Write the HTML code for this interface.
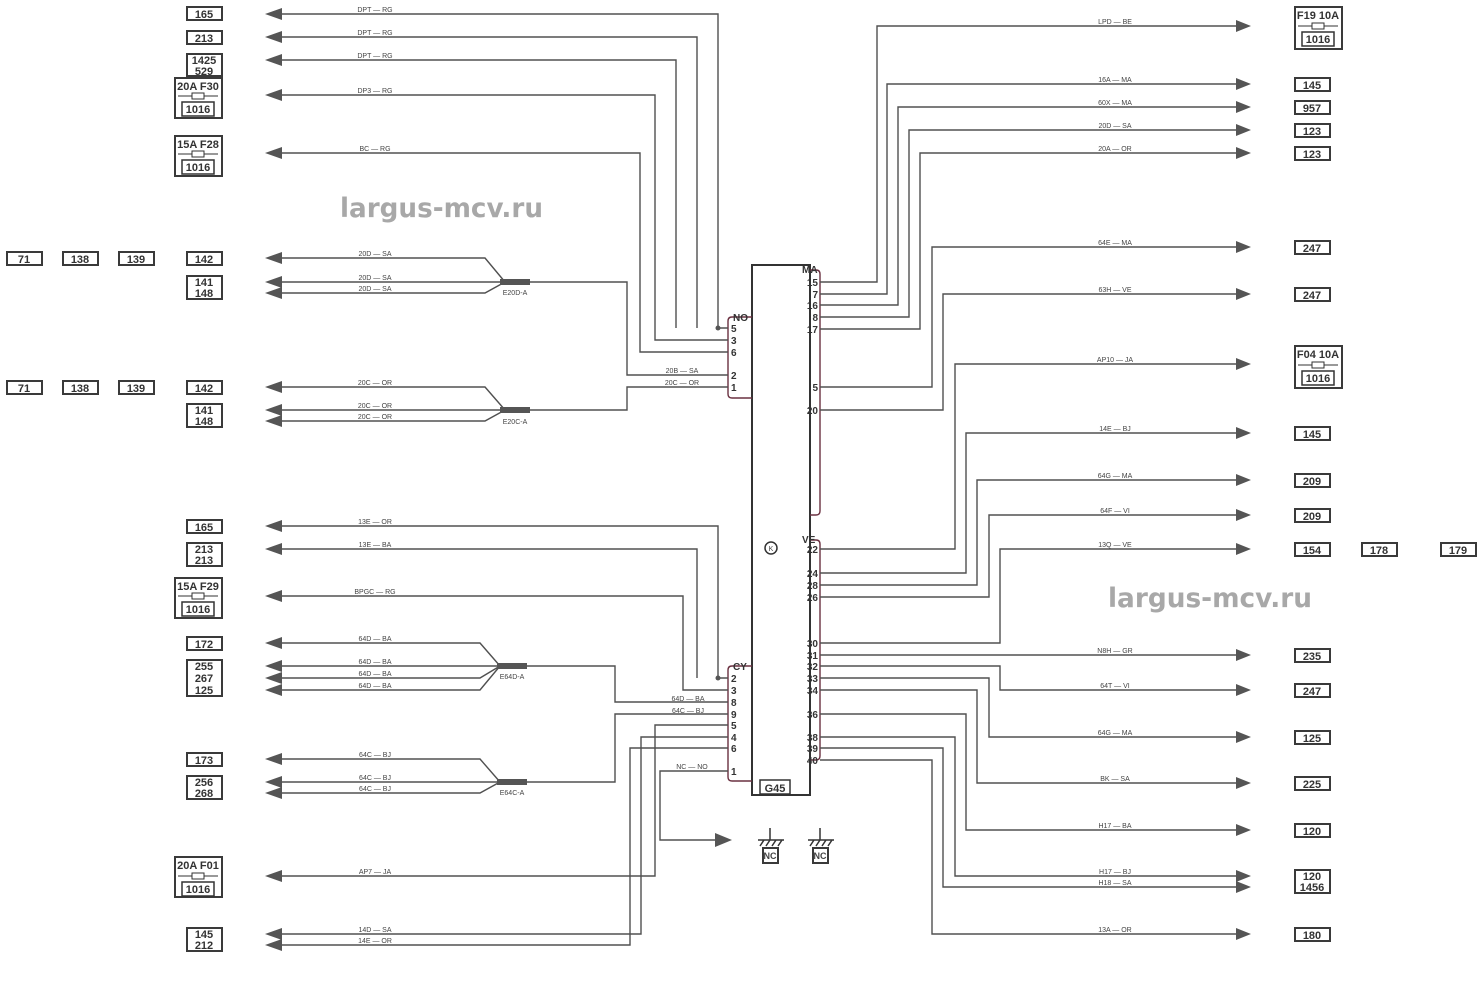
<!DOCTYPE html>
<html><head><meta charset="utf-8"><style>
html,body{margin:0;padding:0;background:#fff;}
svg{display:block;font-family:"Liberation Sans",sans-serif;}
.w{stroke:#505050;stroke-width:1.4;fill:none}
.v{stroke:#6a3040;stroke-width:1.4;fill:none}
.b{fill:#fff;stroke:#3a3a3a;stroke-width:2}
.t{font-size:11px;font-weight:bold;fill:#333;text-anchor:middle}
.s{font-size:7px;fill:#444;text-anchor:middle}
.p{font-size:10px;fill:#333;font-weight:bold}
.a{fill:#555}
.wm{font-size:27px;font-weight:bold;fill:#a8a8a8;font-family:"DejaVu Sans",sans-serif}
</style></head><body>
<svg width="1484" height="983" viewBox="0 0 1484 983">
<text class="wm" x="340" y="217" textLength="203" lengthAdjust="spacingAndGlyphs">largus-mcv.ru</text>
<text class="wm" x="1108" y="607" textLength="204" lengthAdjust="spacingAndGlyphs">largus-mcv.ru</text>

<!-- main module -->
<rect x="752" y="265" width="58" height="530" fill="#fff" stroke="#333" stroke-width="2"/>
<rect x="760" y="780" width="30" height="14" fill="#fff" stroke="#333" stroke-width="1.5"/>
<text class="t" x="775" y="792">G45</text>
<circle cx="771" cy="548" r="6" fill="none" stroke="#333" stroke-width="1.5"/><text class="s" x="771" y="551">K</text>
<!-- connectors -->
<path class="v" d="M752,317 H732 Q728,317 728,321 V394 Q728,398 732,398 H752"/>
<text class="p" x="733" y="321">NO</text>
<path class="v" d="M752,666 H732 Q728,666 728,670 V777 Q728,781 732,781 H752"/>
<text class="p" x="733" y="670">CY</text>
<path class="v" d="M810,270 H816 Q820,270 820,274 V511 Q820,515 816,515 H810"/>
<text class="p" x="802" y="273">MA</text>
<path class="v" d="M810,540 H816 Q820,540 820,544 V756 Q820,760 816,760 H810"/>
<text class="p" x="802" y="543">VE</text>

<!-- left pin labels -->
<g class="p"><text x="731" y="332">5</text><text x="731" y="344">3</text><text x="731" y="356">6</text><text x="731" y="379">2</text><text x="731" y="391">1</text>
<text x="731" y="682">2</text><text x="731" y="694">3</text><text x="731" y="706">8</text><text x="731" y="718">9</text><text x="731" y="729">5</text><text x="731" y="741">4</text><text x="731" y="752">6</text><text x="731" y="775">1</text></g>
<!-- right pin labels -->
<g class="p" text-anchor="end"><text x="818" y="286">15</text><text x="818" y="298">7</text><text x="818" y="309">16</text><text x="818" y="321">8</text><text x="818" y="333">17</text><text x="818" y="391">5</text><text x="818" y="414">20</text>
<text x="818" y="553">22</text><text x="818" y="577">24</text><text x="818" y="589">28</text><text x="818" y="601">26</text><text x="818" y="647">30</text><text x="818" y="659">31</text><text x="818" y="670">32</text><text x="818" y="682">33</text><text x="818" y="694">34</text><text x="818" y="718">36</text><text x="818" y="741">38</text><text x="818" y="752">39</text><text x="818" y="764">40</text></g>

<!-- LEFT WIRES top -->
<path class="w" d="M280,14 H718 V328 H728"/><path class="w" d="M280,37 H697 V328"/><path class="w" d="M280,60 H676 V328"/>
<path class="w" d="M280,95 H655 V340 H728"/><path class="w" d="M280,153 H640 V352 H728"/>
<circle cx="718" cy="328" r="2.5" fill="#555"/>
<path class="w" d="M280,258 H485 L505,282 M280,282 H530 H627 V375 H728 M280,293 H485 L505,282"/>
<rect x="500" y="279" width="30" height="6" fill="#555"/><text class="s" x="515" y="295">E20D-A</text>
<path class="w" d="M280,387 H485 L505,410 M280,410 H530 H627 V387 H728 M280,421 H485 L505,410"/>
<rect x="500" y="407" width="30" height="6" fill="#555"/><text class="s" x="515" y="424">E20C-A</text>
<text class="s" x="682" y="373">20B — SA</text><text class="s" x="682" y="385">20C — OR</text>
<!-- LEFT WIRES bottom -->
<path class="w" d="M280,526 H718 V678 H728"/><path class="w" d="M280,549 H697 V678"/>
<circle cx="718" cy="678" r="2.5" fill="#555"/>
<path class="w" d="M280,596 H683 V690 H728"/>
<path class="w" d="M280,643 H480 L500,666 M280,666 H530 H615 V702 H728 M280,678 H480 L500,666 M280,690 H480 L500,666"/>
<rect x="497" y="663" width="30" height="6" fill="#555"/><text class="s" x="512" y="679">E64D-A</text>
<path class="w" d="M280,759 H480 L500,782 M280,782 H530 H615 V714 H728 M280,793 H480 L500,782"/>
<rect x="497" y="779" width="30" height="6" fill="#555"/><text class="s" x="512" y="795">E64C-A</text>
<text class="s" x="688" y="701">64D — BA</text><text class="s" x="688" y="713">64C — BJ</text>
<path class="w" d="M280,876 H655 V725 H728"/>
<path class="w" d="M280,934 H641 V737 H728"/><path class="w" d="M280,945 H630 V748 H728"/>
<path class="w" d="M728,771 H660 V840 H715"/><polygon class="a" points="732,840 715,833 715,847"/>
<text class="s" x="692" y="769">NC — NO</text>
<!-- left arrows -->
<g class="a">
<polygon points="265,14 282,8 282,20"/><polygon points="265,37 282,31 282,43"/><polygon points="265,60 282,54 282,66"/><polygon points="265,95 282,89 282,101"/><polygon points="265,153 282,147 282,159"/>
<polygon points="265,258 282,252 282,264"/><polygon points="265,282 282,276 282,288"/><polygon points="265,293 282,287 282,299"/>
<polygon points="265,387 282,381 282,393"/><polygon points="265,410 282,404 282,416"/><polygon points="265,421 282,415 282,427"/>
<polygon points="265,526 282,520 282,532"/><polygon points="265,549 282,543 282,555"/><polygon points="265,596 282,590 282,602"/>
<polygon points="265,643 282,637 282,649"/><polygon points="265,666 282,660 282,672"/><polygon points="265,678 282,672 282,684"/><polygon points="265,690 282,684 282,696"/>
<polygon points="265,759 282,753 282,765"/><polygon points="265,782 282,776 282,788"/><polygon points="265,793 282,787 282,799"/>
<polygon points="265,876 282,870 282,882"/><polygon points="265,934 282,928 282,940"/><polygon points="265,945 282,939 282,951"/></g>
<!-- left wire labels -->
<g class="s"><text x="375" y="12">DPT — RG</text><text x="375" y="35">DPT — RG</text><text x="375" y="58">DPT — RG</text><text x="375" y="93">DP3 — RG</text><text x="375" y="151">BC — RG</text>
<text x="375" y="256">20D — SA</text><text x="375" y="280">20D — SA</text><text x="375" y="291">20D — SA</text>
<text x="375" y="385">20C — OR</text><text x="375" y="408">20C — OR</text><text x="375" y="419">20C — OR</text>
<text x="375" y="524">13E — OR</text><text x="375" y="547">13E — BA</text><text x="375" y="594">BPGC — RG</text>
<text x="375" y="641">64D — BA</text><text x="375" y="664">64D — BA</text><text x="375" y="676">64D — BA</text><text x="375" y="688">64D — BA</text>
<text x="375" y="757">64C — BJ</text><text x="375" y="780">64C — BJ</text><text x="375" y="791">64C — BJ</text>
<text x="375" y="874">AP7 — JA</text><text x="375" y="932">14D — SA</text><text x="375" y="943">14E — OR</text></g>
<!-- left boxes -->
<g>
<rect class="b" x="187" y="7" width="35" height="13"/><text class="t" x="204" y="18">165</text>
<rect class="b" x="187" y="31" width="35" height="13"/><text class="t" x="204" y="42">213</text>
<rect class="b" x="187" y="54" width="35" height="22"/><text class="t" x="204" y="64">1425</text><text class="t" x="204" y="75">529</text>
<rect class="b" x="175" y="78" width="47" height="40"/><text class="t" x="198" y="90">20A F30</text><line x1="178" y1="96" x2="218" y2="96" stroke="#333"/><rect x="192" y="93" width="12" height="6" fill="#fff" stroke="#333"/><rect x="182" y="102" width="32" height="14" fill="#fff" stroke="#333" stroke-width="1.5"/><text class="t" x="198" y="113">1016</text>
<rect class="b" x="175" y="136" width="47" height="40"/><text class="t" x="198" y="148">15A F28</text><line x1="178" y1="154" x2="218" y2="154" stroke="#333"/><rect x="192" y="151" width="12" height="6" fill="#fff" stroke="#333"/><rect x="182" y="160" width="32" height="14" fill="#fff" stroke="#333" stroke-width="1.5"/><text class="t" x="198" y="171">1016</text>
<rect class="b" x="7" y="252" width="35" height="13"/><text class="t" x="24" y="263">71</text>
<rect class="b" x="63" y="252" width="35" height="13"/><text class="t" x="80" y="263">138</text>
<rect class="b" x="119" y="252" width="35" height="13"/><text class="t" x="136" y="263">139</text>
<rect class="b" x="187" y="252" width="35" height="13"/><text class="t" x="204" y="263">142</text>
<rect class="b" x="187" y="276" width="35" height="23"/><text class="t" x="204" y="286">141</text><text class="t" x="204" y="297">148</text>
<rect class="b" x="7" y="381" width="35" height="13"/><text class="t" x="24" y="392">71</text>
<rect class="b" x="63" y="381" width="35" height="13"/><text class="t" x="80" y="392">138</text>
<rect class="b" x="119" y="381" width="35" height="13"/><text class="t" x="136" y="392">139</text>
<rect class="b" x="187" y="381" width="35" height="13"/><text class="t" x="204" y="392">142</text>
<rect class="b" x="187" y="404" width="35" height="23"/><text class="t" x="204" y="414">141</text><text class="t" x="204" y="425">148</text>
<rect class="b" x="187" y="520" width="35" height="13"/><text class="t" x="204" y="531">165</text>
<rect class="b" x="187" y="543" width="35" height="23"/><text class="t" x="204" y="553">213</text><text class="t" x="204" y="564">213</text>
<rect class="b" x="175" y="578" width="47" height="40"/><text class="t" x="198" y="590">15A F29</text><line x1="178" y1="596" x2="218" y2="596" stroke="#333"/><rect x="192" y="593" width="12" height="6" fill="#fff" stroke="#333"/><rect x="182" y="602" width="32" height="14" fill="#fff" stroke="#333" stroke-width="1.5"/><text class="t" x="198" y="613">1016</text>
<rect class="b" x="187" y="637" width="35" height="13"/><text class="t" x="204" y="648">172</text>
<rect class="b" x="187" y="660" width="35" height="36"/><text class="t" x="204" y="670">255</text><text class="t" x="204" y="682">267</text><text class="t" x="204" y="694">125</text>
<rect class="b" x="187" y="753" width="35" height="13"/><text class="t" x="204" y="764">173</text>
<rect class="b" x="187" y="776" width="35" height="23"/><text class="t" x="204" y="786">256</text><text class="t" x="204" y="797">268</text>
<rect class="b" x="175" y="857" width="47" height="40"/><text class="t" x="198" y="869">20A F01</text><line x1="178" y1="876" x2="218" y2="876" stroke="#333"/><rect x="192" y="873" width="12" height="6" fill="#fff" stroke="#333"/><rect x="182" y="882" width="32" height="14" fill="#fff" stroke="#333" stroke-width="1.5"/><text class="t" x="198" y="893">1016</text>
<rect class="b" x="187" y="928" width="35" height="23"/><text class="t" x="204" y="938">145</text><text class="t" x="204" y="949">212</text>
</g>

<!-- grounds -->
<g stroke="#333" stroke-width="1.5" fill="none">
<path d="M770,828 V840 M758,840 H784 M760,846 L764,840 M766,846 L770,840 M772,846 L776,840 M778,846 L782,840"/>
<path d="M820,828 V840 M808,840 H834 M810,846 L814,840 M816,846 L820,840 M822,846 L826,840 M828,846 L832,840"/>
</g>
<rect class="b" x="763" y="848" width="15" height="15"/><text class="s" x="770" y="859" style="font-size:9px;font-weight:bold">NC</text>
<rect class="b" x="813" y="848" width="15" height="15"/><text class="s" x="820" y="859" style="font-size:9px;font-weight:bold">NC</text>

<!-- RIGHT WIRES -->
<path class="w" d="M820,282 H877 V26 H1240"/><path class="w" d="M820,294 H887 V84 H1240"/><path class="w" d="M820,305 H898 V107 H1240"/><path class="w" d="M820,317 H909 V130 H1240"/><path class="w" d="M820,329 H920 V153 H1240"/>
<path class="w" d="M820,387 H932 V247 H1240"/><path class="w" d="M820,410 H943 V294 H1240"/>
<path class="w" d="M820,549 H955 V364 H1240"/><path class="w" d="M820,573 H966 V433 H1240"/><path class="w" d="M820,585 H977 V480 H1240"/><path class="w" d="M820,597 H989 V515 H1240"/><path class="w" d="M820,643 H1000 V549 H1240"/>
<path class="w" d="M820,655 H1240"/><path class="w" d="M820,666 H1000 V690 H1240"/><path class="w" d="M820,678 H989 V737 H1240"/><path class="w" d="M820,690 H977 V783 H1240"/><path class="w" d="M820,714 H966 V830 H1240"/><path class="w" d="M820,737 H955 V876 H1240"/><path class="w" d="M820,748 H943 V887 H1240"/><path class="w" d="M820,760 H932 V934 H1240"/>
<g class="a">
<polygon points="1251,26 1236,20 1236,32"/><polygon points="1251,84 1236,78 1236,90"/><polygon points="1251,107 1236,101 1236,113"/><polygon points="1251,130 1236,124 1236,136"/><polygon points="1251,153 1236,147 1236,159"/>
<polygon points="1251,247 1236,241 1236,253"/><polygon points="1251,294 1236,288 1236,300"/><polygon points="1251,364 1236,358 1236,370"/><polygon points="1251,433 1236,427 1236,439"/><polygon points="1251,480 1236,474 1236,486"/><polygon points="1251,515 1236,509 1236,521"/><polygon points="1251,549 1236,543 1236,555"/>
<polygon points="1251,655 1236,649 1236,661"/><polygon points="1251,690 1236,684 1236,696"/><polygon points="1251,737 1236,731 1236,743"/><polygon points="1251,783 1236,777 1236,789"/><polygon points="1251,830 1236,824 1236,836"/><polygon points="1251,876 1236,870 1236,882"/><polygon points="1251,887 1236,881 1236,893"/><polygon points="1251,934 1236,928 1236,940"/></g>
<g class="s"><text x="1115" y="24">LPD — BE</text><text x="1115" y="82">16A — MA</text><text x="1115" y="105">60X — MA</text><text x="1115" y="128">20D — SA</text><text x="1115" y="151">20A — OR</text>
<text x="1115" y="245">64E — MA</text><text x="1115" y="292">63H — VE</text><text x="1115" y="362">AP10 — JA</text><text x="1115" y="431">14E — BJ</text><text x="1115" y="478">64G — MA</text><text x="1115" y="513">64F — VI</text><text x="1115" y="547">13Q — VE</text>
<text x="1115" y="653">N8H — GR</text><text x="1115" y="688">64T — VI</text><text x="1115" y="735">64G — MA</text><text x="1115" y="781">BK — SA</text><text x="1115" y="828">H17 — BA</text><text x="1115" y="874">H17 — BJ</text><text x="1115" y="885">H18 — SA</text><text x="1115" y="932">13A — OR</text></g>
<!-- right boxes -->
<g>
<rect class="b" x="1295" y="7" width="47" height="42"/><text class="t" x="1318" y="19">F19 10A</text><line x1="1298" y1="26" x2="1338" y2="26" stroke="#333"/><rect x="1312" y="23" width="12" height="6" fill="#fff" stroke="#333"/><rect x="1302" y="32" width="32" height="14" fill="#fff" stroke="#333" stroke-width="1.5"/><text class="t" x="1318" y="43">1016</text>
<rect class="b" x="1295" y="78" width="35" height="13"/><text class="t" x="1312" y="89">145</text>
<rect class="b" x="1295" y="101" width="35" height="13"/><text class="t" x="1312" y="112">957</text>
<rect class="b" x="1295" y="124" width="35" height="13"/><text class="t" x="1312" y="135">123</text>
<rect class="b" x="1295" y="147" width="35" height="13"/><text class="t" x="1312" y="158">123</text>
<rect class="b" x="1295" y="241" width="35" height="13"/><text class="t" x="1312" y="252">247</text>
<rect class="b" x="1295" y="288" width="35" height="13"/><text class="t" x="1312" y="299">247</text>
<rect class="b" x="1295" y="346" width="47" height="42"/><text class="t" x="1318" y="358">F04 10A</text><line x1="1298" y1="365" x2="1338" y2="365" stroke="#333"/><rect x="1312" y="362" width="12" height="6" fill="#fff" stroke="#333"/><rect x="1302" y="371" width="32" height="14" fill="#fff" stroke="#333" stroke-width="1.5"/><text class="t" x="1318" y="382">1016</text>
<rect class="b" x="1295" y="427" width="35" height="13"/><text class="t" x="1312" y="438">145</text>
<rect class="b" x="1295" y="474" width="35" height="13"/><text class="t" x="1312" y="485">209</text>
<rect class="b" x="1295" y="509" width="35" height="13"/><text class="t" x="1312" y="520">209</text>
<rect class="b" x="1295" y="543" width="35" height="13"/><text class="t" x="1312" y="554">154</text>
<rect class="b" x="1362" y="543" width="35" height="13"/><text class="t" x="1379" y="554">178</text>
<rect class="b" x="1441" y="543" width="35" height="13"/><text class="t" x="1458" y="554">179</text>
<rect class="b" x="1295" y="649" width="35" height="13"/><text class="t" x="1312" y="660">235</text>
<rect class="b" x="1295" y="684" width="35" height="13"/><text class="t" x="1312" y="695">247</text>
<rect class="b" x="1295" y="731" width="35" height="13"/><text class="t" x="1312" y="742">125</text>
<rect class="b" x="1295" y="777" width="35" height="13"/><text class="t" x="1312" y="788">225</text>
<rect class="b" x="1295" y="824" width="35" height="13"/><text class="t" x="1312" y="835">120</text>
<rect class="b" x="1295" y="870" width="35" height="23"/><text class="t" x="1312" y="880">120</text><text class="t" x="1312" y="891">1456</text>
<rect class="b" x="1295" y="928" width="35" height="13"/><text class="t" x="1312" y="939">180</text>
</g>
</svg>
</body></html>
